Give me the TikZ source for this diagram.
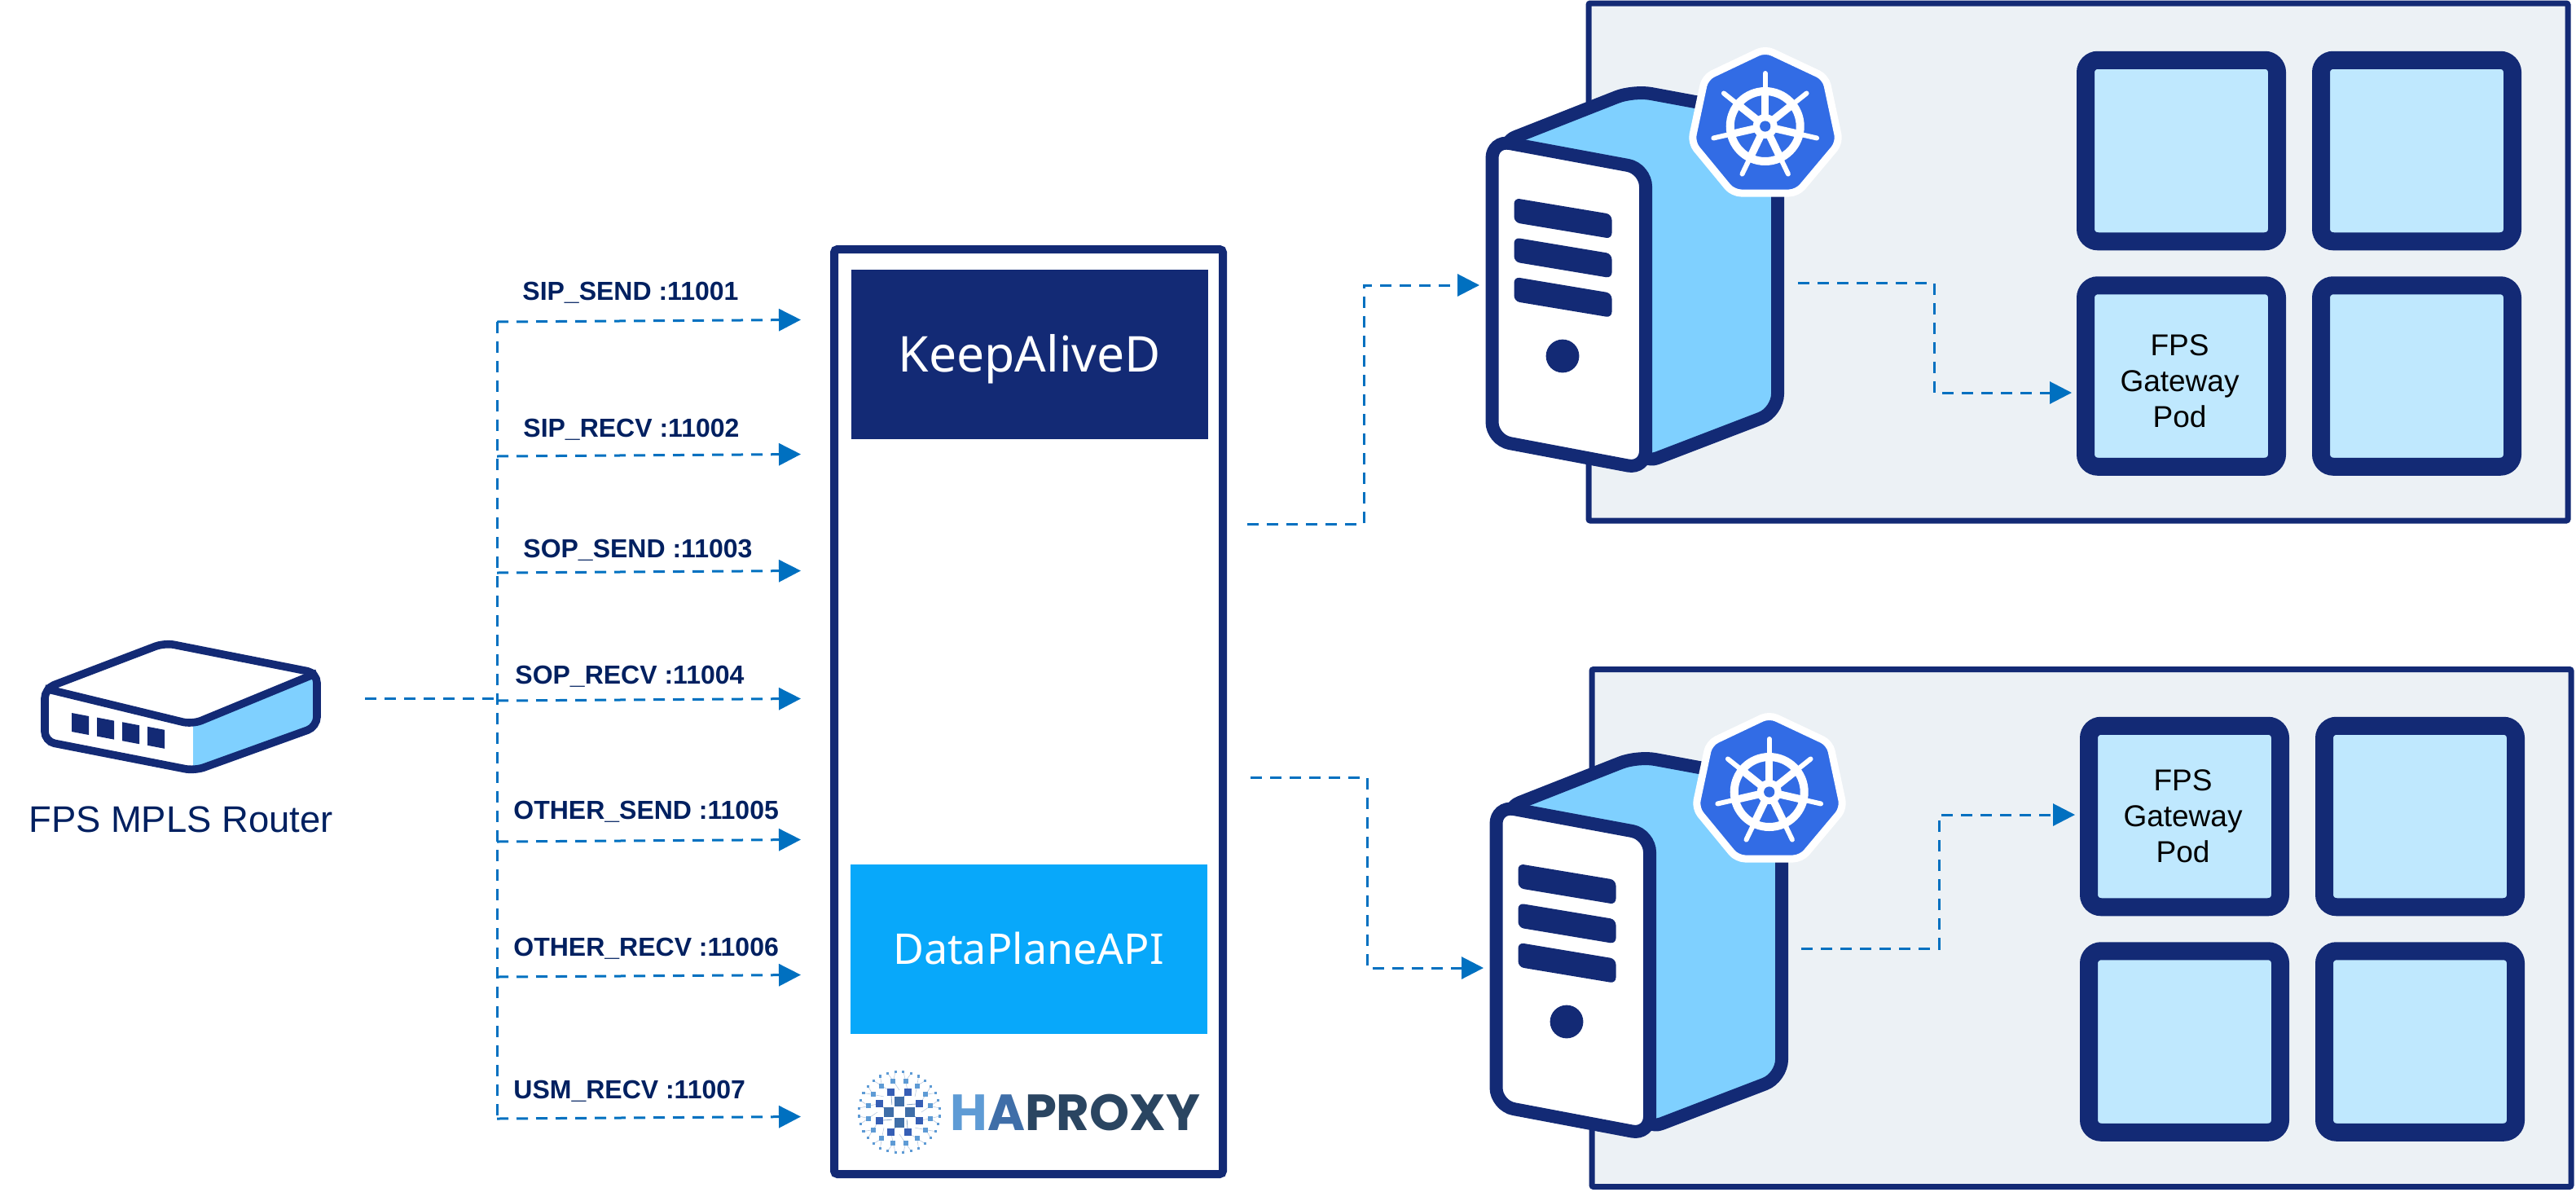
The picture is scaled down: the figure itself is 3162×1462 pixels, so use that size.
\documentclass[tikz,border=0pt]{standalone}
\usepackage{fontspec}
\setmainfont{Liberation Sans}
\newfontfamily\uifont{Noto Sans}
\newfontfamily\hapfont{Poppins}
\usetikzlibrary{arrows.meta}
\usetikzlibrary{positioning}

\definecolor{navy}{HTML}{132A75}
\definecolor{labelnavy}{HTML}{002060}
\definecolor{flowblue}{HTML}{0070C0}
\definecolor{sideblue}{HTML}{7FD0FF}
\definecolor{podblue}{HTML}{BFE8FE}
\definecolor{apiblue}{HTML}{08A8FA}
\definecolor{clustergrey}{HTML}{ECF1F5}
\definecolor{kubeblue}{HTML}{326CE5}
\definecolor{hapone}{HTML}{5E9BD5}
\definecolor{haptwo}{HTML}{3F6EA8}
\definecolor{hapthree}{HTML}{2A4561}

\tikzset{
    serverpic/.pic={
        % side and front of the case
        \draw[navy, fill=sideblue, line width=8pt, rounded corners=11pt, line join=round]
            (60,176) -- (225,111) -- (402,143.7) -- (402,505.5) -- (234,570) -- (240,300) -- cycle;
        \draw[navy, fill=white, line width=8pt, rounded corners=11pt]
            (51.5,172) -- (240,207) -- (240,575.6) -- (51.5,540) -- cycle;
        \foreach \i in {0,1,2}
            \fill[navy, rounded corners=3.5pt] (78.5,243+48.4*\i) -- (198.5,263+48.4*\i) -- (198.5,293+48.4*\i) -- (78.5,273+48.4*\i) -- cycle;
        \fill[navy] (138,437) circle [radius=10.2pt];
        % kubernetes badge
        \draw[white, fill=kubeblue, line width=4.5pt, rounded corners=5pt, line join=round]
            (386.7,60) -- (461,95) -- (478,175) -- (426,237) -- (347,237) -- (296,175) -- (313,95) -- cycle;
        \begin{scope}[shift={(386.7,155)}]
            \draw[white, line width=5pt] (0,0) circle [radius=21.5pt];
            \foreach \k in {0,...,6} {
                \draw[white, line width=4.6pt] (0,0) -- ({-90+51.43*\k}:42);
                \draw[white, line width=3pt, line cap=round] ({-90+51.43*\k}:42) -- ({-90+51.43*\k}:65);
            }
            \fill[white] (0,0) circle [radius=7.5pt];
            \fill[kubeblue] (0,0) circle [radius=3.3pt];
        \end{scope}
    },
    routerpic/.pic={
        \fill[sideblue] (237,889) -- (389,826) -- (389,892) -- (237,944) -- cycle;
        \draw[navy, line width=4.8pt, rounded corners=6pt]
            (55,845) -- (202,789) -- (389,826) -- (389,892) -- (239,946) -- (55,910) -- cycle;
        \draw[navy, line width=4.8pt, rounded corners=6pt] (55,845) -- (236,889) -- (389,826);
        \foreach \i in {0,1,2,3}
            \fill[navy] (88+31*\i,875+5.6*\i) -- (109+31*\i,879+5.6*\i) -- (109+31*\i,902+5.6*\i) -- (88+31*\i,898+5.6*\i) -- cycle;
    },
    hapmark/.pic={
        \foreach \k in {0,...,15} {
            \draw[haptwo!35, line width=.3pt] ({11.25+22.5*\k}:39) -- ({5.6+22.5*\k}:50);
            \draw[haptwo!35, line width=.3pt] ({11.25+22.5*\k}:39) -- ({16.9+22.5*\k}:50);
            \draw[haptwo!35, line width=.3pt] ({11.25+22.5*\k}:39) -- ({22.5+22.5*\k}:27);
            \fill[hapone] ({11.25+22.5*\k}:39) ++(-3,-3) rectangle ++(6,6);
            \fill[hapone] ({5.6+22.5*\k}:50) ++(-1.6,-1.6) rectangle ++(3.2,3.2);
            \fill[hapone] ({16.9+22.5*\k}:50) ++(-1.6,-1.6) rectangle ++(3.2,3.2);
        }
        \foreach \k in {0,...,7} {
            \draw[haptwo!60, line width=.4pt] ({22.5+45*\k}:27) -- ({45*\k}:13);
            \fill[haptwo!85!blue] ({22.5+45*\k}:27) ++(-4.5,-4.5) rectangle ++(9,9);
        }
        \foreach \k in {0,...,3}
            \fill[haptwo] ({90*\k}:13) ++(-6,-6) rectangle ++(12,12);
    }
}

\begin{document}
\begin{tikzpicture}[
    x=.5pt, y=-.5pt,
    node distance=27pt and 27pt,
    >={Triangle[length=13.5pt, width=13.5pt]},
    flow/.style={draw=flowblue, line width=1.5pt, dash pattern=on 7pt off 5pt},
    portlabel/.style={anchor=base west, inner sep=0pt, text=labelnavy, font=\fontsize{16}{18}\selectfont\bfseries},
    clusterbox/.style={draw=navy, fill=clustergrey, line width=3.5pt, rounded corners=1pt, minimum width=601pt, minimum height=317.5pt},
    hubbox/.style={draw=navy, fill=white, line width=5pt, rounded corners=2pt, minimum width=238.5pt, minimum height=567.5pt},
    podbox/.style={draw=navy, fill=podblue, line width=11pt, rounded corners=7.5pt, outer sep=0pt, inner sep=0pt,
        minimum width=117.5pt, minimum height=111.25pt},
    podtext/.style={inner sep=0pt, align=center, font=\fontsize{18.5}{22}\selectfont},
    bandbox/.style={minimum width=219pt, minimum height=104pt, inner sep=0pt, text=white, text depth=0pt}
]
\useasboundingbox (0,0) rectangle (3162,1462);

% Nodes
\node[clusterbox] (clusterA) at (2551,321.5) {};
\node[clusterbox] (clusterB) at (2555,1139) {};

\pic at (1780,0) {serverpic};
\pic at (1785,817) {serverpic};

\node[podbox] (podA) at (2677.5,185) {};
\node[podbox, right=of podA] (podB) {};
\node[podbox, below=of podA] (podC) {};
\node[podbox, right=of podC] (podD) {};
\node[podbox] (podE) at (2681.5,1002) {};
\node[podbox, right=of podE] (podF) {};
\node[podbox, below=of podE] (podG) {};
\node[podbox, right=of podG] (podH) {};
\node[podtext] (gatewayA) at ([xshift=-1pt, yshift=-3pt]podC.center) {FPS\\Gateway\\Pod};
\node[podtext] (gatewayB) at ([xshift=-1pt]podE.center) {FPS\\Gateway\\Pod};

\node[hubbox] (hub) at (1262.5,873.5) {};
\node[bandbox, fill=navy, text height=21.5pt, font=\uifont\fontsize{30.3}{36}\selectfont] (keepalive) at (1264,435) {KeepAliveD};
\node[bandbox, fill=apiblue, text height=18.6pt, font=\uifont\fontsize{26}{32}\selectfont] (dataplane) at (1262.5,1165) {DataPlaneAPI};
\pic at (1104,1365) {hapmark};
\node[inner sep=0pt, anchor=west, font=\hapfont\bfseries\fontsize{31.2}{36}\selectfont] (haproxy) at (1166,1365)
    {\textcolor{hapone}{H}\textcolor{haptwo}{A}\textcolor{hapthree}{PROXY}};

\pic at (0,0) {routerpic};
\node[text=labelnavy, inner sep=0pt, font=\fontsize{22.7}{27}\selectfont] (routerlabel) at (222,1006) {FPS MPLS Router};

\coordinate (routerout) at (448,857);
\coordinate (hubupper) at (1531,643);
\coordinate (hublower) at (1535,954);
\coordinate (serverAin) at (1816,350);
\coordinate (serverBin) at (1821,1188);
\coordinate (serverAout) at (2207,347);
\coordinate (serverBout) at (2211,1164);
\coordinate (podCin) at (2543,482);
\coordinate (podEin) at (2547,1000);

% Edges
\foreach \i/\by/\lx/\ly/\txt in {
    1/395/641/368/SIP\_SEND :11001,
    2/560/642/536/SIP\_RECV :11002,
    3/703/642/684.5/SOP\_SEND :11003,
    4/860/632/839/SOP\_RECV :11004,
    5/1033/630/1005/OTHER\_SEND :11005,
    6/1199/630/1173/OTHER\_RECV :11006,
    7/1373/630/1348/USM\_RECV :11007} {
    \coordinate (branch\i) at (610,\by);
    \coordinate (tip\i) at (983,\by-2.5);
    \draw[flow, ->] (branch\i) -- (tip\i);
    \node[portlabel] (port\i) at (\lx,\ly) {\txt};
}
\draw[flow] (branch1) -- (branch7);
\draw[flow] (routerout) -- (branch4 |- routerout);
\draw[flow, ->] (hubupper) -- (1674,643) -- (1674,350) -- (serverAin);
\draw[flow, ->] (hublower) -- (1678,954) -- (1678,1188) -- (serverBin);
\draw[flow, ->] (serverAout) -- (2374,347) -- (2374,482) -- (podCin);
\draw[flow, ->] (serverBout) -- (2380,1164) -- (2380,1000) -- (podEin);

\end{tikzpicture}
\end{document}
